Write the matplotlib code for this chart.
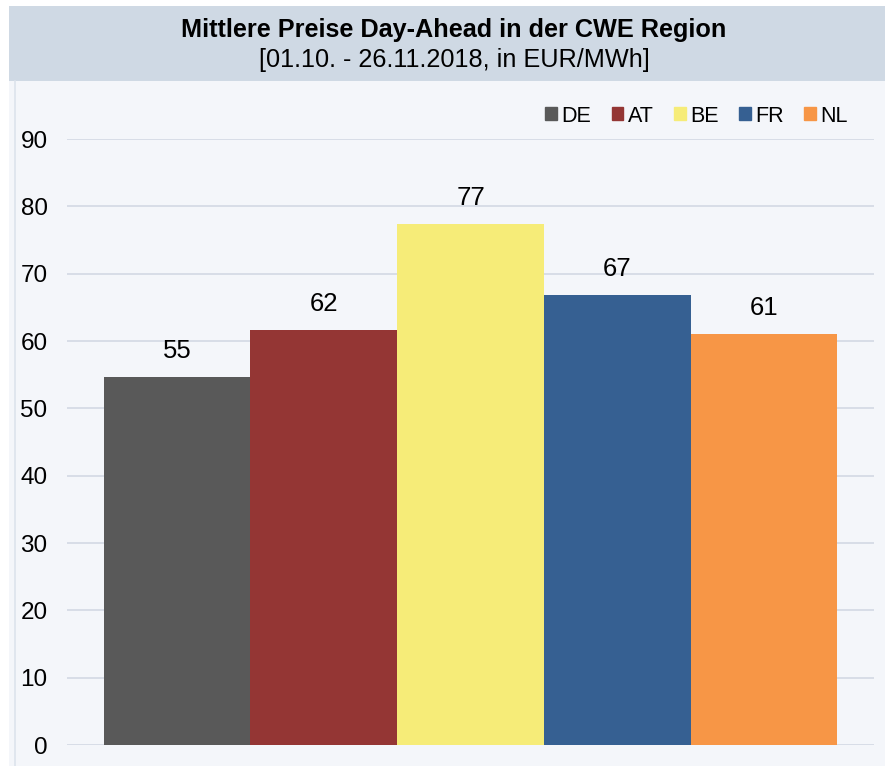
import matplotlib.pyplot as plt
from matplotlib.patches import Rectangle

plt.rcParams['font.family'] = ['Liberation Sans', 'DejaVu Sans']

# Mean day-ahead prices per country (EUR/MWh)
countries = ['DE', 'AT', 'BE', 'FR', 'NL']
prices = [54.7, 61.7, 77.4, 66.9, 61.1]
colors = ['#595959', '#943634', '#f6ec78', '#366092', '#f79646']
yticks = [0, 10, 20, 30, 40, 50, 60, 70, 80, 90]

W, H = 885, 766
fig = plt.figure(figsize=(W / 100, H / 100), dpi=100)
fig.patch.set_facecolor('white')

# panel background and title band
fig.patches.append(Rectangle((9 / W, 0), 1 - 9 / W, 1 - 81 / H, transform=fig.transFigure,
                             facecolor='#f4f6fa', edgecolor='none', zorder=-2))
fig.patches.append(Rectangle((9 / W, 1 - 81 / H), 1 - 9 / W, 75 / H, transform=fig.transFigure,
                             facecolor='#cfd9e4', edgecolor='none', zorder=-2))
fig.lines.append(plt.Line2D([15 / W, 15 / W], [0, 1 - 81 / H], transform=fig.transFigure,
                            color='#dde3ec', lw=1.2, zorder=-1))

fig.text(454 / W, 1 - 30 / H, 'Mittlere Preise Day-Ahead in der CWE Region',
         ha='center', va='center', fontsize=18.2, fontweight='bold')
fig.text(454 / W, 1 - 60 / H, '[01.10. - 26.11.2018, in EUR/MWh]',
         ha='center', va='center', fontsize=18.2)

ax = fig.add_axes([67 / W, 1 - 745 / H, (874 - 67) / W, (745 - 139) / H])
ax.set_zorder(1)
ax.set_facecolor('none')
x = list(range(len(countries)))
ax.bar(x, prices, width=1.0, color=colors, zorder=2)
for xi, v in zip(x, prices):
    ax.text(xi, v + 2.0, f'{v:.0f}', ha='center', va='bottom', fontsize=18.5)

ax.set_xlim(-0.75, 4.75)
ax.set_ylim(0, 90)
ax.set_yticks(yticks)
ax.yaxis.grid(True, color='#d5dbe5', lw=1.3, zorder=0)
ax.set_axisbelow(True)
ax.set_xticks([])
ax.tick_params(axis='y', length=0, labelsize=17.5, pad=14)
for s in ax.spines.values():
    s.set_visible(False)

handles = [Rectangle((0, 0), 1, 1, color=c) for c in colors]
fig.legend(handles, countries, loc='center right', bbox_to_anchor=(848 / W, 1 - 116 / H),
           ncol=5, frameon=False, fontsize=15.5, handlelength=0.55, handleheight=0.55,
           handletextpad=0.2, columnspacing=0.95, borderaxespad=0, borderpad=0)

fig.savefig('out.png', dpi=100, facecolor=fig.get_facecolor())
